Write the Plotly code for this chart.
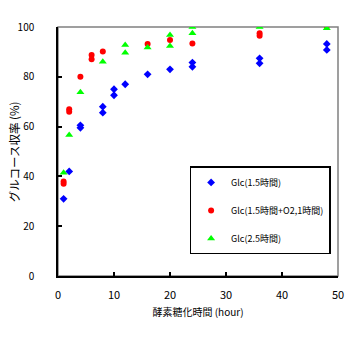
import plotly.graph_objects as go

# Data
blue_x = [1, 2, 4, 4, 8, 8, 10, 10, 12, 16, 20, 24, 24, 36, 36, 48, 48]
blue_y = [31, 42, 60.5, 59.5, 68, 65.6, 75, 72.6, 77, 81, 83, 85.7, 84, 87.4, 85.4, 93.2, 90.8]

red_x = [1, 1, 2, 2, 4, 6, 6, 8, 16, 20, 24, 36, 36, 48]
red_y = [38, 37, 67, 66, 80, 88.8, 87, 90.2, 93.2, 94.8, 93.4, 97.5, 96.5, 100.4]

green_x = [1, 2, 4, 8, 12, 12, 16, 20, 20, 24, 24, 36, 48]
green_y = [41.5, 56.6, 73.8, 86, 92.8, 89.7, 91.8, 96.8, 92.4, 100, 97.5, 100, 99.5]

names = ["Glc(1.5時間)", "Glc(1.5時間+O2,1時間)", "Glc(2.5時間)"]
x_ticks = [0, 10, 20, 30, 40, 50]
y_ticks = [0, 20, 40, 60, 80, 100]
x_title = "酵素糖化時間 (hour)"
y_title = "グルコース収率 (%)"

FONT = "Noto Sans CJK JP"

fig = go.Figure()
fig.add_trace(go.Scatter(x=blue_x, y=blue_y, mode="markers", name=names[0], legendgroup="a",
                         marker=dict(symbol="diamond", size=6, color="#0000FF")))
fig.add_trace(go.Scatter(x=red_x, y=red_y, mode="markers", name=names[1], legendgroup="b",
                         marker=dict(symbol="circle", size=6, color="#FF0000")))
fig.add_trace(go.Scatter(x=green_x, y=green_y, mode="markers", name=names[2], legendgroup="c",
                         marker=dict(symbol="triangle-up", size=7, color="#00FF00")))

fig.update_layout(
    width=352, height=347,
    margin=dict(l=57.5, r=14, t=27, b=71),
    paper_bgcolor="white", plot_bgcolor="white",
    font=dict(family=FONT, size=10, color="black"),
    showlegend=True,
    legend=dict(x=0.47, y=0.44, xanchor="left", yanchor="top",
                bgcolor="white", bordercolor="black", borderwidth=1.5,
                font=dict(family=FONT, size=9, color="black"),
                traceorder="grouped", tracegroupgap=9),
    shapes=[dict(type="rect", xref="paper", yref="paper", x0=0, x1=1, y0=0, y1=1,
                 line=dict(color="#808080", width=1.5), layer="below")],
    annotations=[dict(text=y_title, xref="paper", yref="paper", x=-0.158, y=0.5,
                      xanchor="center", yanchor="middle", textangle=-90, showarrow=False,
                      font=dict(family=FONT, size=11.5, color="black"))],
)
fig.update_xaxes(range=[0, 50], tickvals=x_ticks, ticktext=[str(v) for v in x_ticks],
                 showgrid=False, zeroline=False, showline=True, linecolor="black", linewidth=1.5,
                 ticks="inside", ticklen=4, tickcolor="black", tickwidth=1.5,
                 ticklabelstandoff=8, automargin=False,
                 tickfont=dict(family=FONT, size=11),
                 title=dict(text=x_title, font=dict(family=FONT, size=10), standoff=8))
fig.update_yaxes(range=[0, 100], tickvals=y_ticks, ticktext=[str(v) for v in y_ticks],
                 showgrid=False, zeroline=False, showline=True, linecolor="black", linewidth=1.5,
                 ticks="inside", ticklen=4, tickcolor="black", tickwidth=1.5,
                 ticklabelstandoff=20, automargin=False,
                 tickfont=dict(family=FONT, size=10))

fig.write_html("out.html")
